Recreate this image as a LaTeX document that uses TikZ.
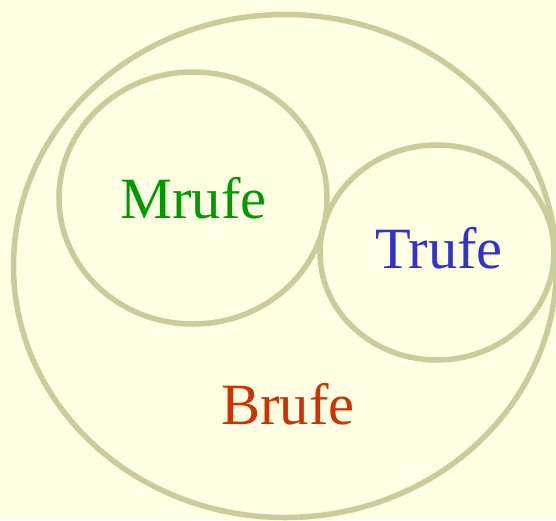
\documentclass[tikz,border=0pt]{standalone}
\usepackage{fontspec}
\setmainfont{Liberation Serif}
\usetikzlibrary{shapes.geometric}
\definecolor{bg}{HTML}{FFFFE3}
\definecolor{ring}{HTML}{CACC9A}
\definecolor{mgreen}{HTML}{009900}
\definecolor{tblue}{HTML}{3333CC}
\definecolor{bred}{HTML}{CC3300}
\tikzset{
  setring/.style={ellipse, draw=ring, line width=5.5pt, inner sep=0pt, outer sep=0pt},
  setlabel/.style={anchor=base, inner sep=0pt, font=\fontsize{58.5}{62}\selectfont}
}
\begin{document}
\begin{tikzpicture}[x=1pt,y=-1pt]
\fill[bg] (0,0) rectangle (556,520);
\useasboundingbox (0,0) rectangle (556,520);
\node[setring, minimum width=543pt, minimum height=503pt] (brufe) at (285,266) {};
\node[setring, minimum width=268pt, minimum height=252pt] (mrufe) at (193,198) {};
\node[setring, minimum width=234pt, minimum height=215pt] (trufe) at (437,252.5) {};
\node[setlabel, text=mgreen] (lm) at (193.5,218) {Mrufe};
\node[setlabel, text=tblue] (lt) at (439,268) {Trufe};
\node[setlabel, text=bred] (lb) at (288,424) {Brufe};
\end{tikzpicture}
\end{document}
